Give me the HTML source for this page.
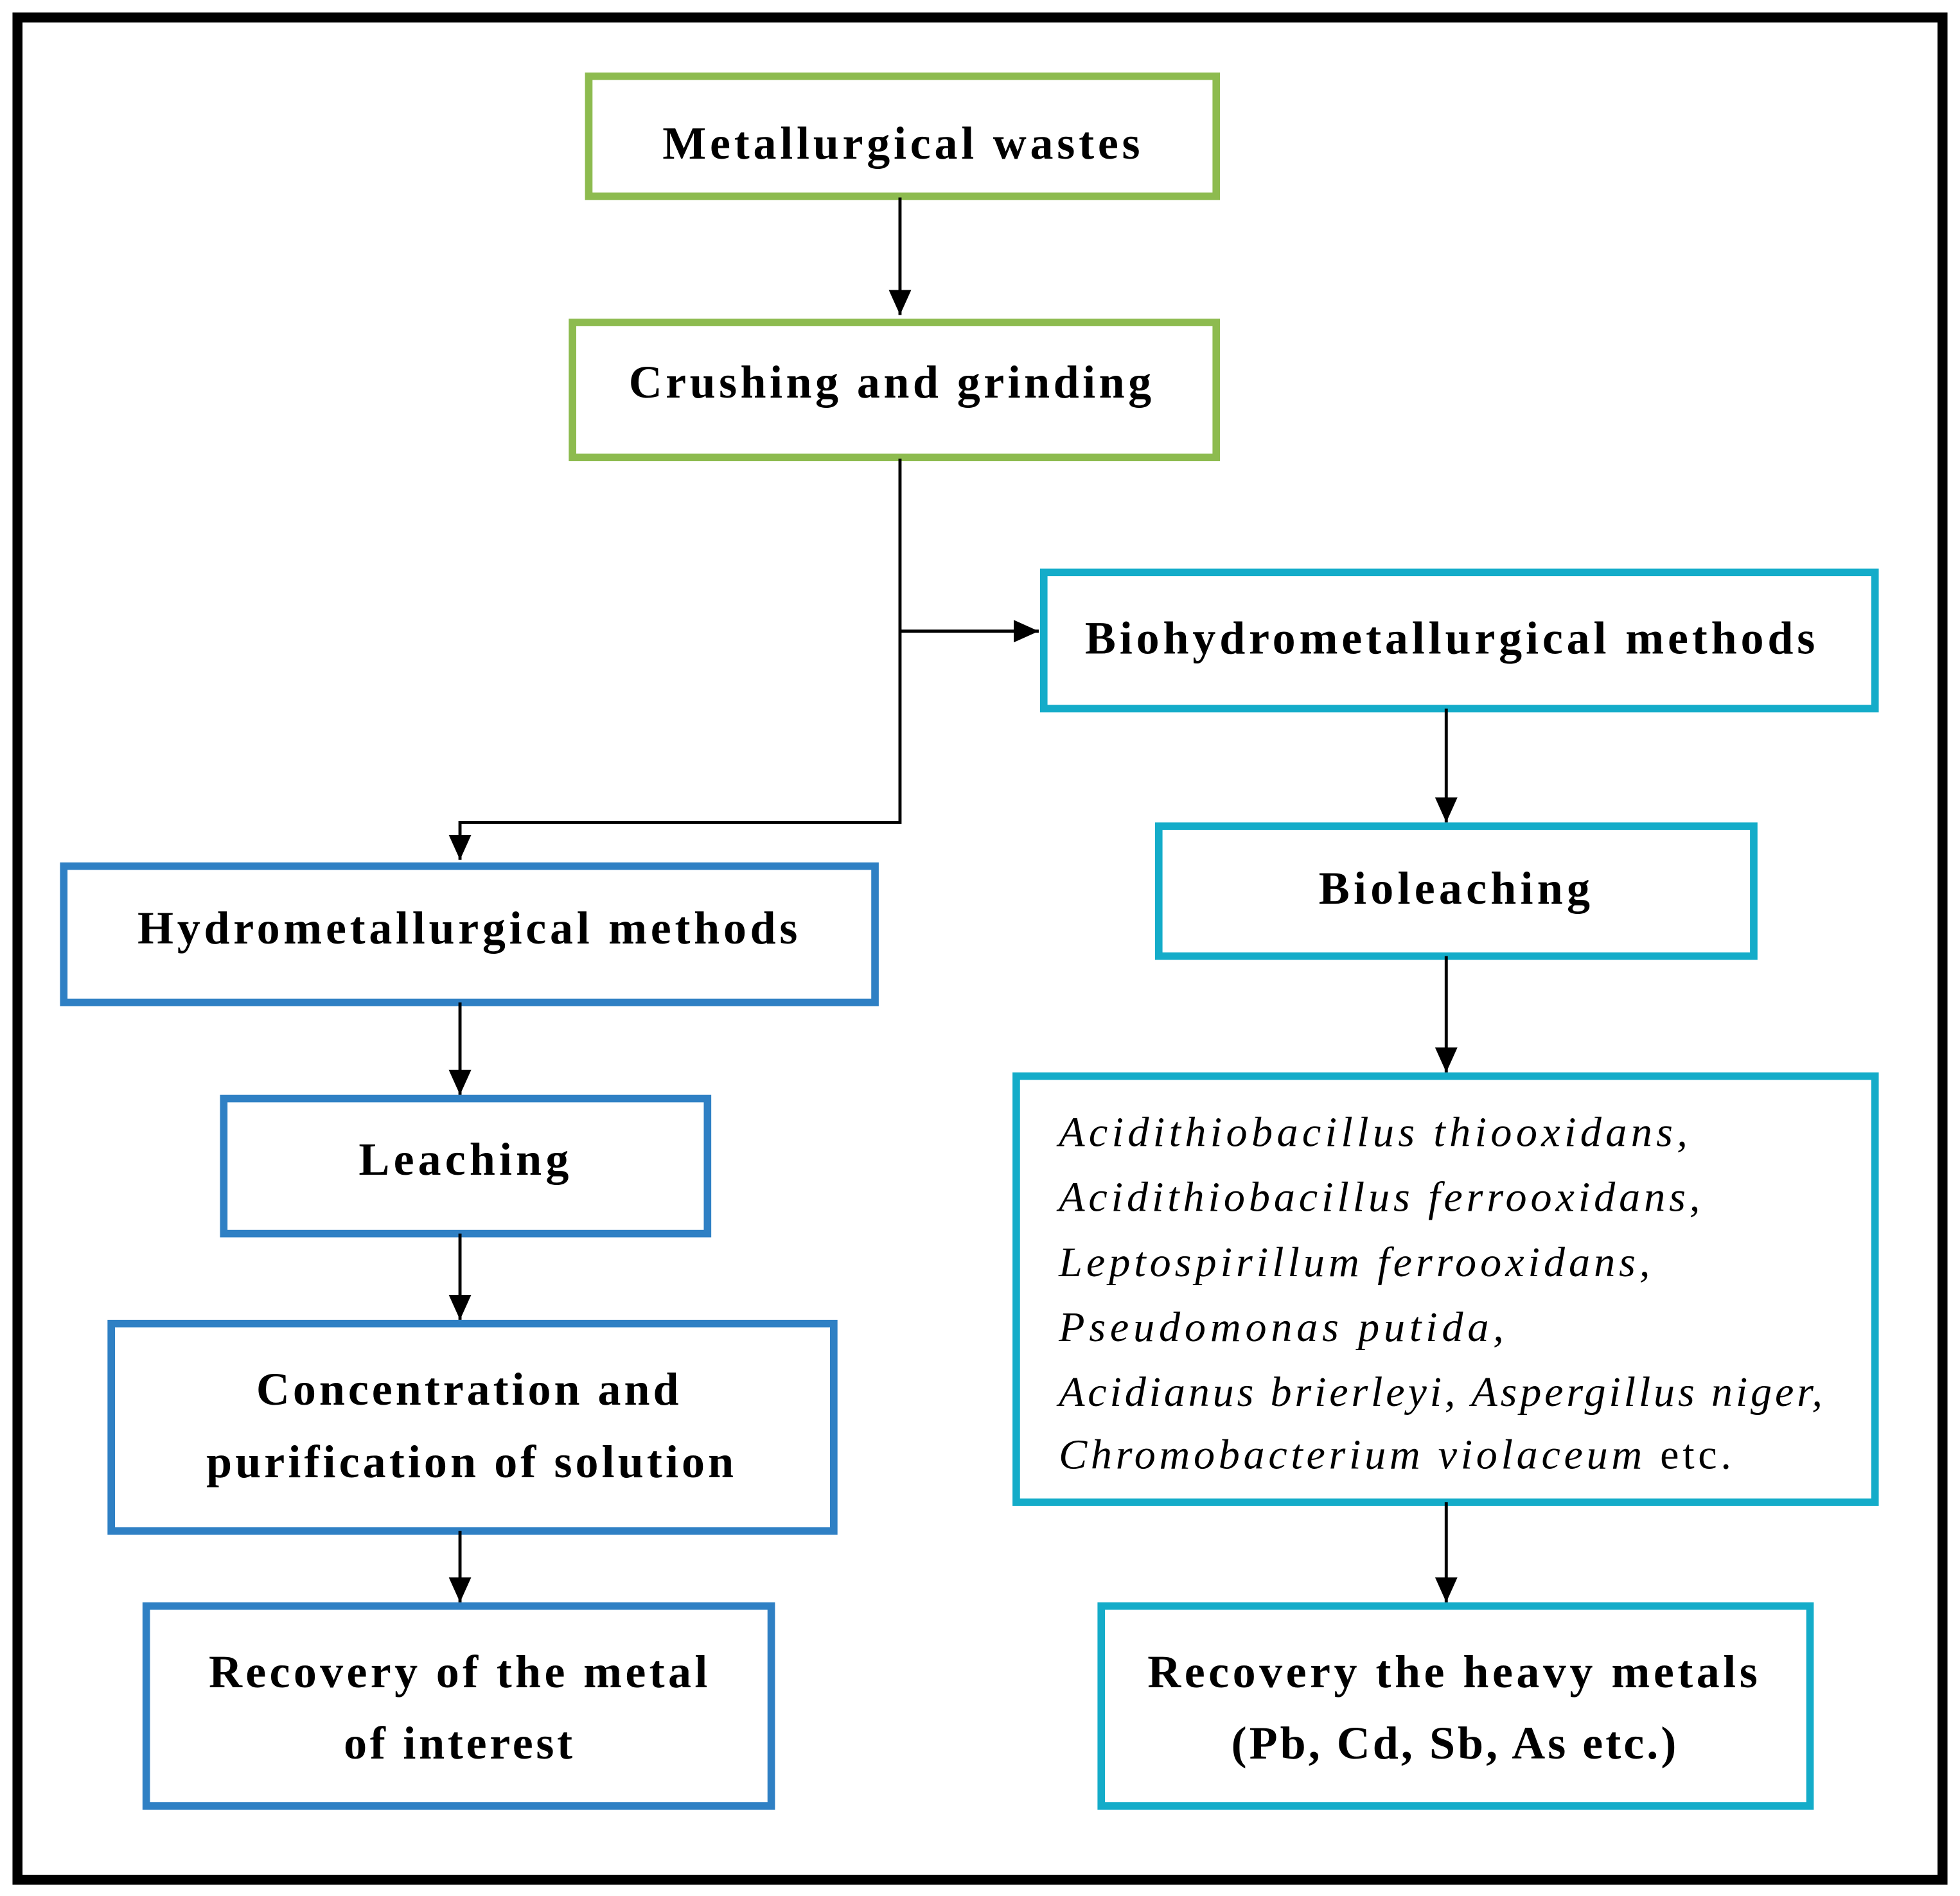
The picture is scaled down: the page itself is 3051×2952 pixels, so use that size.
<!DOCTYPE html>
<html><head><meta charset="utf-8"><style>
html,body{margin:0;padding:0;background:#fff}
svg{display:block}
text{font-family:"Liberation Serif",serif}
.b{font-weight:bold;font-size:37px}
.i{font-style:italic;font-size:34px}
</style></head><body>
<svg width="3051" height="2952" viewBox="0 0 1568 1517" preserveAspectRatio="none" xmlns="http://www.w3.org/2000/svg">
<defs>
<marker id="d" viewBox="0 0 22 18" markerWidth="22" markerHeight="18" refX="20" refY="9" orient="auto" markerUnits="userSpaceOnUse"><path d="M0,0 L20,9 L0,18 z" fill="#000"/></marker></defs>
<rect x="14" y="14" width="1540" height="1490" fill="none" stroke="#000" stroke-width="8"/>
<g fill="none" stroke-width="6">
<rect x="471" y="61" width="502" height="96" stroke="#8dbb4f"/>
<rect x="458" y="258" width="515" height="108" stroke="#8dbb4f"/>
<rect x="835" y="458" width="665" height="109" stroke="#14acc9"/>
<rect x="927" y="661" width="476" height="104" stroke="#14acc9"/>
<rect x="813" y="861" width="687" height="341" stroke="#14acc9"/>
<rect x="881" y="1285" width="567" height="160" stroke="#14acc9"/>
<rect x="51" y="693" width="649" height="109" stroke="#2f80c4"/>
<rect x="179" y="879" width="387" height="108" stroke="#2f80c4"/>
<rect x="89" y="1059" width="578" height="166" stroke="#2f80c4"/>
<rect x="117" y="1285" width="500" height="160" stroke="#2f80c4"/>
</g>
<g fill="none" stroke="#000" stroke-width="2.5">
<line x1="720" y1="158" x2="720" y2="252" marker-end="url(#d)"/>
<polyline points="720,367 720,658 368,658 368,688" marker-end="url(#d)"/>
<line x1="720" y1="505" x2="831" y2="505" marker-end="url(#d)"/>
<line x1="368" y1="802" x2="368" y2="876" marker-end="url(#d)"/>
<line x1="368" y1="987" x2="368" y2="1056" marker-end="url(#d)"/>
<line x1="368" y1="1225" x2="368" y2="1282" marker-end="url(#d)"/>
<line x1="1157" y1="567" x2="1157" y2="658" marker-end="url(#d)"/>
<line x1="1157" y1="765" x2="1157" y2="858" marker-end="url(#d)"/>
<line x1="1157" y1="1202" x2="1157" y2="1282" marker-end="url(#d)"/>
</g>
<g class="b">
<text x="530" y="127" textLength="382" lengthAdjust="spacing">Metallurgical wastes</text>
<text x="503" y="318" textLength="418" lengthAdjust="spacing">Crushing and grinding</text>
<text x="868" y="523" textLength="584" lengthAdjust="spacing">Biohydrometallurgical methods</text>
<text x="1055" y="723" textLength="217" lengthAdjust="spacing">Bioleaching</text>
<text x="110" y="755" textLength="528" lengthAdjust="spacing">Hydrometallurgical methods</text>
<text x="287" y="940" textLength="168" lengthAdjust="spacing">Leaching</text>
<text x="205" y="1124" textLength="338" lengthAdjust="spacing">Concentration and</text>
<text x="165" y="1182" textLength="422" lengthAdjust="spacing">purification of solution</text>
<text x="167" y="1350" textLength="399" lengthAdjust="spacing">Recovery of the metal</text>
<text x="275" y="1407" textLength="183" lengthAdjust="spacing">of interest</text>
<text x="918" y="1350" textLength="488" lengthAdjust="spacing">Recovery the heavy metals</text>
<text x="985" y="1407" textLength="356" lengthAdjust="spacing">(Pb, Cd, Sb, As etc.)</text>
</g>
<g class="i">
<text x="847" y="917" textLength="503" lengthAdjust="spacing">Acidithiobacillus thiooxidans,</text>
<text x="847" y="969" textLength="513" lengthAdjust="spacing">Acidithiobacillus ferrooxidans,</text>
<text x="847" y="1021" textLength="473" lengthAdjust="spacing">Leptospirillum ferrooxidans,</text>
<text x="847" y="1073" textLength="356" lengthAdjust="spacing">Pseudomonas putida,</text>
<text x="847" y="1125" textLength="611" lengthAdjust="spacing">Acidianus brierleyi, Aspergillus niger,</text>
<text x="847" y="1175" textLength="538" lengthAdjust="spacing">Chromobacterium violaceum <tspan font-style="normal">etc.</tspan></text>
</g>
</svg>
</body></html>
